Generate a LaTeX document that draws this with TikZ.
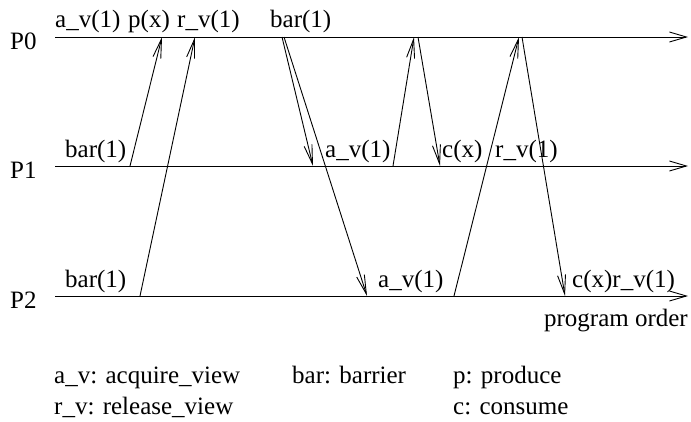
\documentclass[tikz,border=0pt]{standalone}
\usepackage{fontspec}
\setmainfont{Liberation Serif}
\newfontfamily\figfont{Liberation Serif}
\usetikzlibrary{arrows.meta, positioning}

\tikzset{
  timeline/.style={line width=0.9pt, -{Straight Barb[length=17pt,width=10pt]}},
  msg/.style={line width=0.9pt, -{Straight Barb[length=19pt,width=8pt]}},
  evlabel/.style={anchor=base west, inner sep=0pt, font=\figfont\fontsize{25}{30}\selectfont},
}

\begin{document}
\begin{tikzpicture}[x=1pt, y=-1pt]
\useasboundingbox (0,0) rectangle (691,421);

% process lines
\foreach \p/\y in {0/37, 1/166, 2/296} {
  \coordinate (start\p) at (55,\y);
  \coordinate (end\p) at (688,\y);
  \draw[timeline] (start\p) -- (end\p);
}
\node[evlabel] (lblP0) at (10,49) {P0};
\node[evlabel] (lblP1) at (10,178) {P1};
\node[evlabel] (lblP2) at (10,308) {P2};

% events on P0
\coordinate (p0px) at (162,37);
\coordinate (p0rv) at (195,37);
\coordinate (p0bara) at (282,37);
\coordinate (p0barb) at (284,37);
\coordinate (p0ava) at (414,37);
\coordinate (p0cx) at (418,37);
\coordinate (p0rva) at (519,37);
\coordinate (p0cxb) at (522,37);

% events on P1
\coordinate (p1bar) at (130,166);
\coordinate (p1bartip) at (313,166);
\coordinate (p1av) at (393,166);
\coordinate (p1cx) at (440,166);

% events on P2
\coordinate (p2bar) at (140,296);
\coordinate (p2bartip) at (367,296);
\coordinate (p2av) at (454,296);
\coordinate (p2cx) at (565,296);

\draw[msg] (p1bar) -- (p0px);
\draw[msg] (p2bar) -- (p0rv);
\draw[msg] (p0bara) -- (p1bartip);
\draw[msg] (p0barb) -- (p2bartip);
\draw[msg] (p1av) -- (p0ava);
\draw[msg] (p0cx) -- (p1cx);
\draw[msg] (p2av) -- (p0rva);
\draw[msg] (p0cxb) -- (p2cx);

% operation labels
\node[evlabel] (t0av) at (55,27) {a\_v(1)};
\node[evlabel] (t0px) at (128,27) {p(x)};
\node[evlabel] (t0rv) at (177,27) {r\_v(1)};
\node[evlabel] (t0bar) at (270,27) {bar(1)};

\node[evlabel] (t1bar) at (65,157) {bar(1)};
\node[evlabel] (t1av) at (325,157) {a\_v(1)};
\node[evlabel] (t1cx) at (442,157) {c(x)};
\node[evlabel] (t1rv) at (495,157) {r\_v(1)};

\node[evlabel] (t2bar) at (65,287) {bar(1)};
\node[evlabel] (t2av) at (378,287) {a\_v(1)};
\node[evlabel] (t2cx) at (572,287) {c(x)r\_v(1)};

\node[evlabel, anchor=base east] (order) at (688,326) {program order};

% legend
\node[evlabel] (keyav) at (54,383) {a\_v: acquire\_view};
\node[evlabel] (keybar) at (292,383) {bar: barrier};
\node[evlabel] (keyp) at (453,383) {p: produce};
\node[evlabel] (keyrv) at (54,414) {r\_v: release\_view};
\node[evlabel] (keyc) at (453,414) {c: consume};
\end{tikzpicture}
\end{document}
